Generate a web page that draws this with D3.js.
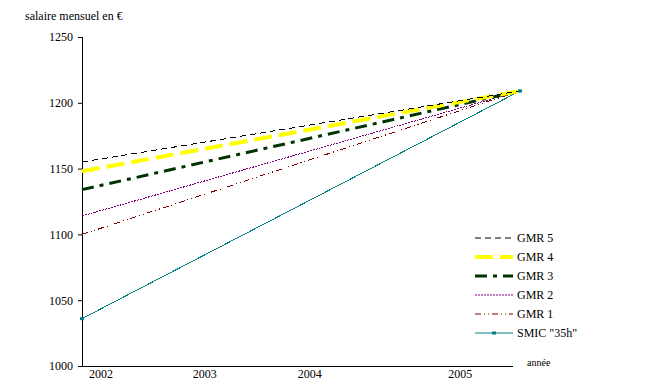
<!DOCTYPE html>
<html>
<head>
<meta charset="utf-8">
<script src="https://cdn.jsdelivr.net/npm/d3@7"></script>
<style>
  body { margin: 0; background: #fff; }
</style>
</head>
<body>
<div id="chart"></div>
<script>
// data (monthly wage in EUR, July 2002 -> July 2005)
var years = [2002.5, 2005.5]
var gmr5 = [1155, 1209]
var gmr4 = [1148, 1209]
var gmr3 = [1134, 1209]
var gmr2 = [1114, 1209]
var gmr1 = [1100, 1209]
var smic = [1036, 1209]
var names = ["GMR 5", "GMR 4", "GMR 3", "GMR 2", "GMR 1", 'SMIC "35h"']
var yTicks = [1000, 1050, 1100, 1150, 1200, 1250]
var xLabels = ["2002", "2003", "2004", "2005"]
var xLabelAt = [2002.63, 2003.34, 2004.06, 2005.09]

var FONT = '"Liberation Serif", "Times New Roman", "DejaVu Serif", serif'

var styles = [
  {color: "#000000", width: 1, dash: "6,4"},
  {color: "#ffff00", width: 4, dash: "18,7"},
  {color: "#003300", width: 3, dash: "12,6,4,6"},
  {color: "#800080", width: 1, dash: "2,1"},
  {color: "#800000", width: 1, dash: "6,3,1,3,1,3"},
  {color: "#008080", width: 1, dash: null}
]

var series = [gmr5, gmr4, gmr3, gmr2, gmr1, smic].map(function(vals, i){
  return {name: names[i], style: styles[i], values: vals.map(function(v, j){ return {year: years[j], value: v} })}
})

var width = 652, height = 390
var axisRight = 513

var x = d3.scaleLinear().domain([2002.5, 2005.5]).range([82, 520])
var y = d3.scaleLinear().domain([1000, 1250]).range([366, 37])

var svg = d3.select("#chart").append("svg")
  .attr("width", width)
  .attr("height", height)

// y axis
var yAxis = svg.append("g")
  .attr("transform", "translate(82,0)")
  .call(d3.axisLeft(y).tickValues(yTicks).tickSize(4).tickSizeOuter(0).tickPadding(5).tickFormat(d3.format("d")))
yAxis.attr("font-family", null).attr("font-size", null)
yAxis.select(".domain").attr("stroke", "#000").attr("d", "M0.5," + y(1250) + "V" + y(1000))
yAxis.selectAll("text").style("font-size", "12px").style("font-family", FONT)

// x axis, plain line with free labels
svg.append("line")
  .attr("x1", 82).attr("x2", axisRight)
  .attr("y1", y(1000) + 0.5).attr("y2", y(1000) + 0.5)
  .attr("stroke", "#000")

svg.selectAll(".xlab")
  .data(xLabels)
  .enter().append("text")
  .attr("class", "xlab")
  .attr("x", function(d, i){ return x(xLabelAt[i]) })
  .attr("y", 378)
  .attr("text-anchor", "middle")
  .style("font-size", "12px")
  .style("font-family", FONT)
  .text(function(d){ return d })

svg.append("text")
  .attr("x", 527).attr("y", 366)
  .style("font-size", "10px")
  .style("font-family", FONT)
  .text("année")

svg.append("text")
  .attr("x", 25).attr("y", 20)
  .style("font-size", "12px")
  .style("font-family", FONT)
  .text("salaire mensuel en €")

var line = d3.line()
  .x(function(d){ return x(d.year) })
  .y(function(d){ return y(d.value) })

var g = svg.append("g").attr("class", "lines")

// draw from bottom to top so the upper dashed lines sit above
series.slice().reverse().forEach(function(s){
  g.append("path")
    .datum(s.values)
    .attr("fill", "none")
    .attr("stroke", s.style.color)
    .attr("stroke-width", s.style.width)
    .attr("stroke-dasharray", s.style.dash)
    .attr("shape-rendering", s.style.width === 1 ? "crispEdges" : null)
    .attr("d", line)
})

// SMIC markers
g.selectAll(".mark")
  .data(series[5].values)
  .enter().append("rect")
  .attr("class", "mark")
  .attr("x", function(d){ return x(d.year) - 2 })
  .attr("y", function(d){ return y(d.value) - 1.5 })
  .attr("width", 4).attr("height", 3)
  .attr("fill", "#008080")

// legend
var legend = svg.append("g").attr("transform", "translate(475,238)")
var item = legend.selectAll(".item")
  .data(series)
  .enter().append("g")
  .attr("class", "item")
  .attr("transform", function(d, i){ return "translate(0," + i * 19 + ")" })

item.append("line")
  .attr("x1", 0).attr("x2", 38)
  .attr("stroke", function(d){ return d.style.color })
  .attr("stroke-width", function(d){ return d.style.width })
  .attr("stroke-dasharray", function(d){ return d.style.dash })

item.filter(function(d, i){ return i === 5 }).append("rect")
  .attr("x", 17).attr("y", -1.5).attr("width", 4).attr("height", 3)
  .attr("fill", "#008080")

item.append("text")
  .attr("x", 42).attr("y", 4)
  .style("font-size", "12px")
  .style("font-family", FONT)
  .text(function(d){ return d.name })
</script>
</body>
</html>
